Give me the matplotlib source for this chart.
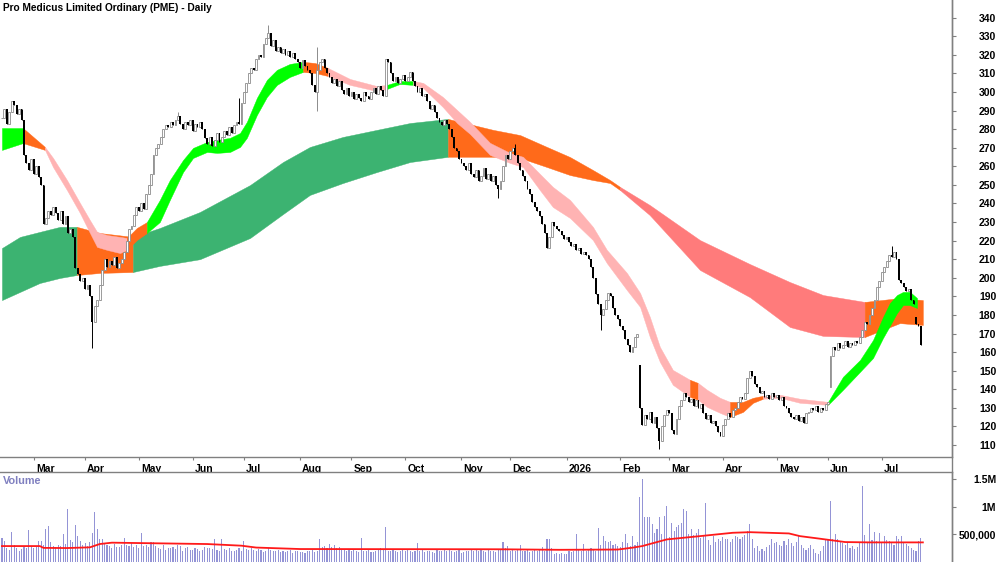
import numpy as np
import pandas as pd
import matplotlib
matplotlib.use('Agg')
import matplotlib.pyplot as plt
from matplotlib.transforms import ScaledTranslation

plt.rcParams['font.family'] = ['Liberation Sans', 'DejaVu Sans']

#===============================================================================
# DATA
#===============================================================================
title = 'Pro Medicus Limited Ordinary (PME) - Daily'
dates = pd.bdate_range('2025-02-12', periods=377)

closes = [286, 291, 283, 289, 295, 293, 288, 291, 285, 266,
          262, 258, 264, 256, 260, 254, 250, 229, 232, 236,
          234, 238, 235, 231, 236, 229, 233, 224, 226, 222,
          205, 202, 198, 200, 194, 196, 190, 176, 185, 188,
          196, 204, 210, 206, 209, 207, 211, 205, 208, 210,
          214, 220, 226, 228, 234, 238, 236, 240, 237, 245,
          250, 256, 266, 270, 272, 276, 280, 282, 281, 284,
          282, 285, 287, 283, 280, 284, 282, 285, 279, 283,
          281, 284, 280, 275, 272, 276, 271, 274, 278, 273,
          276, 279, 277, 281, 278, 282, 284, 283, 294, 300,
          305, 310, 313, 312, 318, 320, 319, 326, 329, 332,
          325, 328, 322, 324, 321, 323, 320, 322, 319, 321,
          318, 316, 313, 317, 314, 312, 310, 304, 300, 312,
          316, 318, 313, 310, 308, 305, 307, 303, 306, 301,
          299, 302, 298, 300, 296, 299, 297, 295, 300, 298,
          296, 300, 302, 299, 303, 301, 298, 318, 316, 310,
          306, 308, 305, 307, 309, 306, 308, 311, 306, 303,
          300, 302, 298, 299, 295, 291, 293, 289, 286, 284,
          282, 285, 283, 280, 276, 270, 268, 264, 262, 260,
          258, 262, 256, 254, 258, 252, 255, 259, 253, 256,
          252, 255, 250, 248, 252, 260, 266, 264, 268, 270,
          266, 262, 258, 255, 252, 248, 245, 241, 238, 236,
          233, 229, 224, 216, 222, 230, 228, 226, 225, 223,
          221, 222, 219, 217, 218, 215, 216, 213, 214, 212,
          210, 206, 200, 191, 186, 180, 183, 188, 192, 190,
          184, 180, 178, 174, 172, 167, 164, 160, 163, 168,
          170, 130, 121, 126, 124, 128, 122, 125, 119, 112,
          120, 126, 129, 127, 118, 116, 124, 131, 134, 138,
          136, 133, 135, 131, 134, 130, 132, 127, 124, 126,
          122, 123, 120, 117, 115, 121, 124, 127, 125, 129,
          130, 133, 136, 135, 138, 146, 150, 147, 143, 141,
          138, 139, 136, 137, 135, 138, 136, 137, 134, 136,
          131, 130, 127, 125, 124, 126, 123, 125, 122, 127,
          128, 130, 129, 131, 128, 130, 129, 132, 133, 158,
          163, 161, 165, 162, 164, 166, 163, 165, 164, 166,
          165, 168, 172, 176, 175, 180, 184, 188, 195, 198,
          203, 206, 209, 212, 211, 214, 210, 199, 197, 195,
          193, 194, 188, 186, 175, 174, 164]

# opens that gapped away from the prior close, and the long wicks
gap_open = {261: 153, 339: 141, 374: 179}
wick_low = {37: 162, 129: 290, 203: 243, 245: 172, 269: 108}
wick_high = {72: 289, 97: 297, 109: 336, 129: 324, 210: 272, 364: 217}

# volume in thousands
volume_k = [435, 374, 250, 220, 536, 300, 240, 200, 230, 260,
            250, 572, 280, 240, 260, 374, 374, 300, 585, 657,
            350, 290, 260, 310, 280, 494, 320, 964, 400, 350,
            670, 464, 380, 300, 330, 280, 360, 520, 904, 585,
            404, 404, 330, 300, 280, 250, 320, 270, 260, 300,
            422, 300, 280, 330, 260, 300, 240, 525, 280, 300,
            260, 350, 350, 280, 240, 230, 300, 220, 250, 240,
            260, 230, 300, 280, 200, 240, 260, 220, 210, 250,
            230, 200, 220, 260, 240, 250, 230, 417, 220, 200,
            404, 230, 210, 250, 200, 190, 220, 240, 200, 374,
            230, 210, 250, 220, 190, 230, 210, 180, 200, 240,
            220, 200, 190, 210, 180, 200, 170, 190, 210, 160,
            190, 200, 170, 180, 150, 200, 190, 210, 170, 200,
            404, 260, 280, 250, 320, 260, 300, 250, 260, 230,
            210, 200, 230, 190, 210, 200, 180, 422, 200, 190,
            210, 180, 170, 200, 230, 250, 220, 633, 200, 190,
            210, 200, 180, 190, 220, 200, 210, 190, 180, 200,
            332, 200, 210, 180, 190, 200, 170, 160, 210, 200,
            190, 210, 200, 220, 190, 180, 200, 210, 160, 180,
            200, 190, 210, 200, 230, 190, 220, 200, 180, 210,
            190, 200, 180, 210, 220, 356, 240, 280, 200, 210,
            190, 220, 296, 200, 190, 210, 180, 200, 220, 190,
            210, 272, 200, 404, 404, 250, 140, 150, 134, 150,
            130, 140, 200, 180, 190, 494, 230, 200, 314, 190,
            210, 250, 230, 200, 615, 300, 464, 380, 350, 374,
            300, 320, 280, 260, 350, 494, 330, 280, 458, 300,
            350, 1175, 1500, 807, 807, 807, 693, 525, 600, 814,
            500, 838, 1006, 450, 706, 550, 639, 675, 700, 958,
            928, 500, 585, 480, 520, 585, 430, 460, 1067, 400,
            300, 464, 350, 420, 380, 450, 404, 420, 360, 404,
            470, 440, 420, 450, 480, 560, 688, 404, 250, 283,
            200, 230, 193, 260, 300, 404, 330, 350, 300, 283,
            380, 300, 404, 330, 283, 360, 464, 300, 250, 220,
            250, 300, 224, 160, 134, 200, 283, 404, 404, 1096,
            404, 494, 404, 380, 344, 300, 330, 250, 280, 224,
            260, 330, 1385, 479, 360, 693, 400, 536, 380, 525,
            350, 464, 400, 380, 344, 300, 464, 420, 464, 330,
            314, 280, 250, 220, 193, 374, 435]

# volume average line (day index, thousands)
vavg_x = [0, 15.5, 17, 26.6, 36, 40, 45, 84, 98, 104, 122, 203, 228,
          252, 258, 262, 272, 285.6, 299, 306, 322, 326.5, 334.7, 345, 355, 376.8]
vavg_k = [283, 283, 250, 247, 260, 320, 345, 320, 290, 256, 229, 225, 215,
          220, 254, 283, 404, 464, 525, 536, 513, 464, 417, 356, 350, 350]

# short term ribbon (day index, top, bottom)
short_x = [0, 8.6, 17.6, 20.9, 26.6, 31.9, 36.0, 38.9, 43.0, 48.3, 51.1, 55.2,
           59.3, 64.6, 68.7, 74.1, 78.2, 83.9, 88.0, 93.3, 97.4, 100.2, 104.3,
           108.4, 112.5, 117.8, 123.2, 128.1, 133.4, 142.4, 153.4, 157.5, 162.8,
           168.2, 172.3, 180.4, 186.2, 191.5, 199.7, 207.9, 213.2, 220.1, 225.4,
           232.4, 241.8, 247.5, 255.7, 261.1, 265.1, 269.2, 274.5, 281.5, 284.8,
           288.5, 293.8, 297.9, 303.2, 307.3, 311.4, 318.4, 326.5, 338.0, 344.1,
           351.1, 356.4, 360.5, 363.3, 366.2, 368.7, 371.5, 374.4]
short_top = [280.6, 280.6, 270.4, 264.5, 252.6, 240.3, 231.0, 224.7, 223.0, 222.0,
             221.4, 226.8, 230.0, 241.9, 252.6, 263.4, 269.9, 273.1, 274.2, 275.3,
             277.9, 283.9, 296.8, 306.5, 311.9, 315.1, 316.2, 315.6, 312.9, 307.0,
             303.2, 303.8, 305.9, 305.9, 304.9, 297.3, 290.3, 283.9, 272.6, 267.2,
             265.1, 255.9, 248.9, 241.9, 227.4, 215.0, 202.6, 191.8, 178.9, 162.8,
             150.4, 145.1, 143.4, 139.7, 135.4, 133.2, 133.2, 135.4, 136.5, 137.0,
             134.9, 133.2, 146.7, 155.8, 166.5, 178.9, 186.4, 190.7, 192.4, 192.4, 189.1]
short_bot = [268.8, 272.5, 268.8, 259.6, 247.2, 234.9, 224.1, 216.6, 215.0, 213.3,
             215.0, 220.3, 224.1, 230.0, 241.9, 256.9, 264.5, 267.7, 267.2, 267.7,
             270.4, 275.3, 287.6, 297.3, 303.8, 308.1, 310.8, 310.2, 308.6, 303.8,
             300.5, 301.6, 304.3, 303.8, 302.2, 291.9, 283.3, 277.4, 266.1, 261.8,
             259.6, 247.2, 238.1, 232.2, 220.3, 207.9, 193.4, 184.3, 168.1, 154.7,
             142.4, 135.9, 134.3, 130.5, 127.3, 125.1, 127.8, 132.7, 134.9, 135.4,
             132.7, 131.6, 139.7, 149.4, 156.8, 167.6, 174.1, 181.0, 185.3, 185.3, 183.7]
short_breaks = [0, 8.6, 17.6, 51.1, 59.3, 123.2, 133.4, 157.5, 168.2, 281.5,
                284.8, 297.9, 311.4, 338.0, 374.4]
short_trend = ['up', 'mix', 'down', 'mix', 'up', 'mix', 'down', 'up', 'down',
               'mix', 'down', 'mix', 'down', 'up']

# long term ribbon
long_x = [0, 7.4, 15.5, 23.7, 30.7, 40.0, 53.6, 64.6, 81.0, 101.5, 115.0, 126.0,
          139.5, 153.4, 167.0, 182.5, 201.0, 212.0, 223.0, 232.4, 241.8, 248.8,
          252.9, 265.0, 285.6, 306.0, 322.4, 336.0, 353.0, 367.4, 376.8]
long_top = [216.0, 222.0, 224.7, 227.4, 227.4, 224.1, 222.0, 226.8, 235.4, 249.9,
            262.3, 270.4, 275.8, 279.6, 283.3, 285.5, 279.6, 276.8, 270.4, 265.0,
            258.0, 252.6, 248.9, 239.2, 220.3, 207.4, 197.7, 190.7, 187.0, 189.1, 188.0]
long_bot = [188.0, 192.4, 197.2, 199.9, 201.5, 202.6, 203.1, 206.4, 210.0, 221.4,
            234.3, 244.6, 251.0, 256.9, 262.3, 265.1, 265.1, 264.5, 259.6, 255.3,
            252.6, 251.0, 247.2, 233.8, 204.2, 189.6, 173.5, 168.7, 168.1, 175.6, 174.6]
long_breaks = [0, 30.7, 53.6, 182.5, 252.9, 353.0, 376.8]
long_trend = ['up', 'mix', 'up', 'mix', 'down', 'mix']

short_col = {'up': '#00FF00', 'mix': '#FF6A1A', 'down': '#FFB3B3'}
long_col = {'up': '#3CB371', 'mix': '#FF6A1A', 'down': '#FF7B7B'}

#===============================================================================
# FIGURE
#===============================================================================
W, H = 1000, 562
fig = plt.figure(figsize=(10, 5.62), dpi=100)
right = 951.7 / W
ax = fig.add_axes([0, (H - 456.7) / H, right, 456.7 / H])
axv = fig.add_axes([0, 0, right, (H - 471.7) / H])

def ribbon(a, xs, top, bot, breaks, trend, cols, z):
    xs, top, bot = np.array(xs), np.array(top), np.array(bot)
    for k in range(len(trend)):
        m = (xs >= breaks[k] - 1e-6) & (xs <= breaks[k + 1] + 1e-6)
        c = cols[trend[k]]
        a.fill_between(xs[m], bot[m], top[m], color=c, lw=0.3, ec=c, zorder=z)

ribbon(ax, long_x, long_top, long_bot, long_breaks, long_trend, long_col, 1)
ribbon(ax, short_x, short_top, short_bot, short_breaks, short_trend, short_col, 2)

# candles
c = np.array(closes, dtype=float)
idx = np.arange(len(c))
o = np.r_[c[0], c[:-1]]
for k, v in gap_open.items():
    o[k] = v
hi = np.maximum(o, c)
lo = np.minimum(o, c)
for k, v in wick_high.items():
    hi[k] = max(hi[k], v)
for k, v in wick_low.items():
    lo[k] = min(lo[k], v)
up = c >= o
ax.vlines(idx[up], lo[up], hi[up], color='#8C8C8C', lw=0.7, zorder=3)
ax.vlines(idx[~up], lo[~up], hi[~up], color='black', lw=0.7, zorder=3)
ax.bar(idx[up], (c - o)[up], bottom=o[up], width=0.75, facecolor='white',
       edgecolor='#8C8C8C', lw=0.6, zorder=4)
ax.bar(idx[~up], (c - o)[~up], bottom=o[~up], width=0.75, color='black',
       lw=0, zorder=4)

ax.set_xlim(-0.8, 388.6)
ax.set_ylim(103.7, 349.5)

# month ticks
mpos, mlab = [], []
for i in range(1, len(dates)):
    if dates[i].month != dates[i - 1].month:
        mpos.append(i)
        mlab.append(str(dates[i].year) if dates[i].month == 1 else dates[i].strftime('%b'))
ax.set_xticks(mpos)
ax.set_xticklabels(mlab, fontsize=7.5, fontweight='bold')
ax.tick_params(axis='x', direction='out', length=2.5, pad=2.5, color='#808080')
off = ScaledTranslation(1.5 / 72, 0, fig.dpi_scale_trans)
for t in ax.get_xticklabels():
    t.set_ha('left')
    t.set_transform(t.get_transform() + off)

ax.yaxis.tick_right()
ax.set_yticks(np.arange(110, 341, 10))
ax.tick_params(axis='y', direction='out', length=3, pad=29, color='#808080',
               labelsize=7.5)
for t in ax.get_yticklabels():
    t.set_ha('right')
    t.set_fontweight('bold')

for s in ['top', 'left']:
    ax.spines[s].set_visible(False)
for s in ['bottom', 'right']:
    ax.spines[s].set_color('#808080')
    ax.spines[s].set_linewidth(1)

ax.text(3 / 951.7, 1 - 8 / 456.7, title, transform=ax.transAxes,
        fontsize=7.3, fontweight='bold', va='center', ha='left')

# volume pane
v = np.array(volume_k) * 1000.0
axv.bar(idx, v, width=0.45, color='#9494D6', lw=0, zorder=2)
axv.plot(vavg_x, np.array(vavg_k) * 1000.0, color='#FF1A1A', lw=1.3, zorder=3)
axv.set_xlim(-0.8, 388.6)
axv.set_ylim(-7000, 1637000)
axv.set_xticks([])
axv.yaxis.tick_right()
axv.set_yticks([500000, 1000000, 1500000])
axv.set_yticklabels(['500,000', '1M', '1.5M'])
axv.tick_params(axis='y', direction='out', length=3, pad=29, color='#808080',
                labelsize=7.5)
for t in axv.get_yticklabels():
    t.set_ha('right')
    t.set_fontweight('bold')
for s in ['bottom', 'left']:
    axv.spines[s].set_visible(False)
for s in ['top', 'right']:
    axv.spines[s].set_color('#808080')
    axv.spines[s].set_linewidth(1)
axv.text(3 / 951.7, 1 - 9 / 90.3, 'Volume', transform=axv.transAxes,
         fontsize=7.8, fontweight='bold', color='#8080C0', va='center', ha='left')

# line through the date strip
fig.add_artist(plt.Line2D([right, right], [0, 1], color='#808080', lw=1,
                          transform=fig.transFigure))

fig.savefig('out.png', dpi=100)
